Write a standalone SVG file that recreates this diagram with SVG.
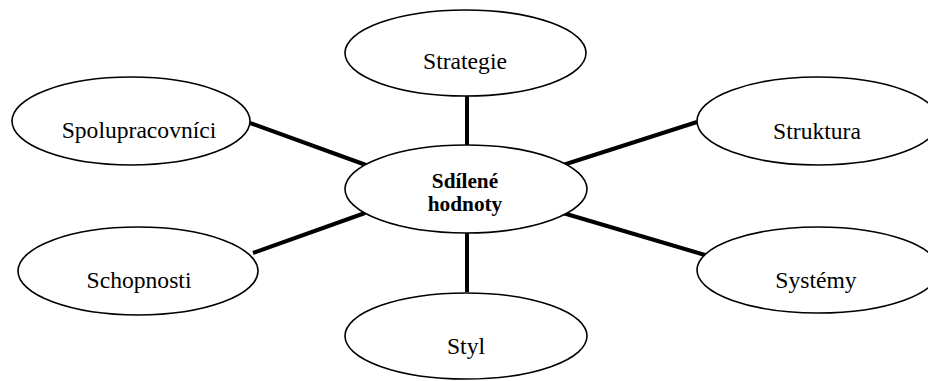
<svg xmlns="http://www.w3.org/2000/svg" width="928" height="381" viewBox="0 0 928 381">
  <style>
    .node ellipse { fill: #ffffff; stroke: #000000; stroke-width: 1.6; }
    .node text { font-family: "Liberation Serif", "Times New Roman", serif; font-size: 23.6px; fill: #000000; text-anchor: middle; }
    #core text { font-weight: bold; font-size: 21.3px; }
    #connectors line { stroke: #000000; stroke-width: 4; }
  </style>
  <rect width="928" height="381" fill="#ffffff"/>

  <!-- spokes from the centre to each element -->
  <g id="connectors">
    <line x1="467" y1="95" x2="467" y2="145"/>
    <line x1="467" y1="233" x2="467" y2="292"/>
    <line x1="250" y1="123" x2="366" y2="165"/>
    <line x1="253" y1="253" x2="365" y2="213"/>
    <line x1="697" y1="122" x2="563" y2="165"/>
    <line x1="563" y1="213" x2="705" y2="255"/>
  </g>

  <g id="strategie" class="node">
    <ellipse cx="465.5" cy="53" rx="120.5" ry="43"/>
    <text x="465" y="69">Strategie</text>
  </g>

  <g id="spolupracovnici" class="node">
    <ellipse cx="131" cy="121" rx="119" ry="44"/>
    <text x="139" y="138">Spolupracovníci</text>
  </g>

  <g id="struktura" class="node">
    <ellipse cx="818" cy="121" rx="121" ry="44"/>
    <text x="817" y="139">Struktura</text>
  </g>

  <g id="core" class="node">
    <ellipse cx="466" cy="189" rx="121" ry="44"/>
    <text x="465" y="188">Sdílené</text>
    <text x="465" y="211">hodnoty</text>
  </g>

  <g id="schopnosti" class="node">
    <ellipse cx="138" cy="271" rx="120" ry="44"/>
    <text x="139" y="288">Schopnosti</text>
  </g>

  <g id="systemy" class="node">
    <ellipse cx="818" cy="270" rx="121" ry="43"/>
    <text x="816" y="288">Systémy</text>
  </g>

  <g id="styl" class="node">
    <ellipse cx="466" cy="336" rx="121" ry="43"/>
    <text x="466" y="354">Styl</text>
  </g>
</svg>
